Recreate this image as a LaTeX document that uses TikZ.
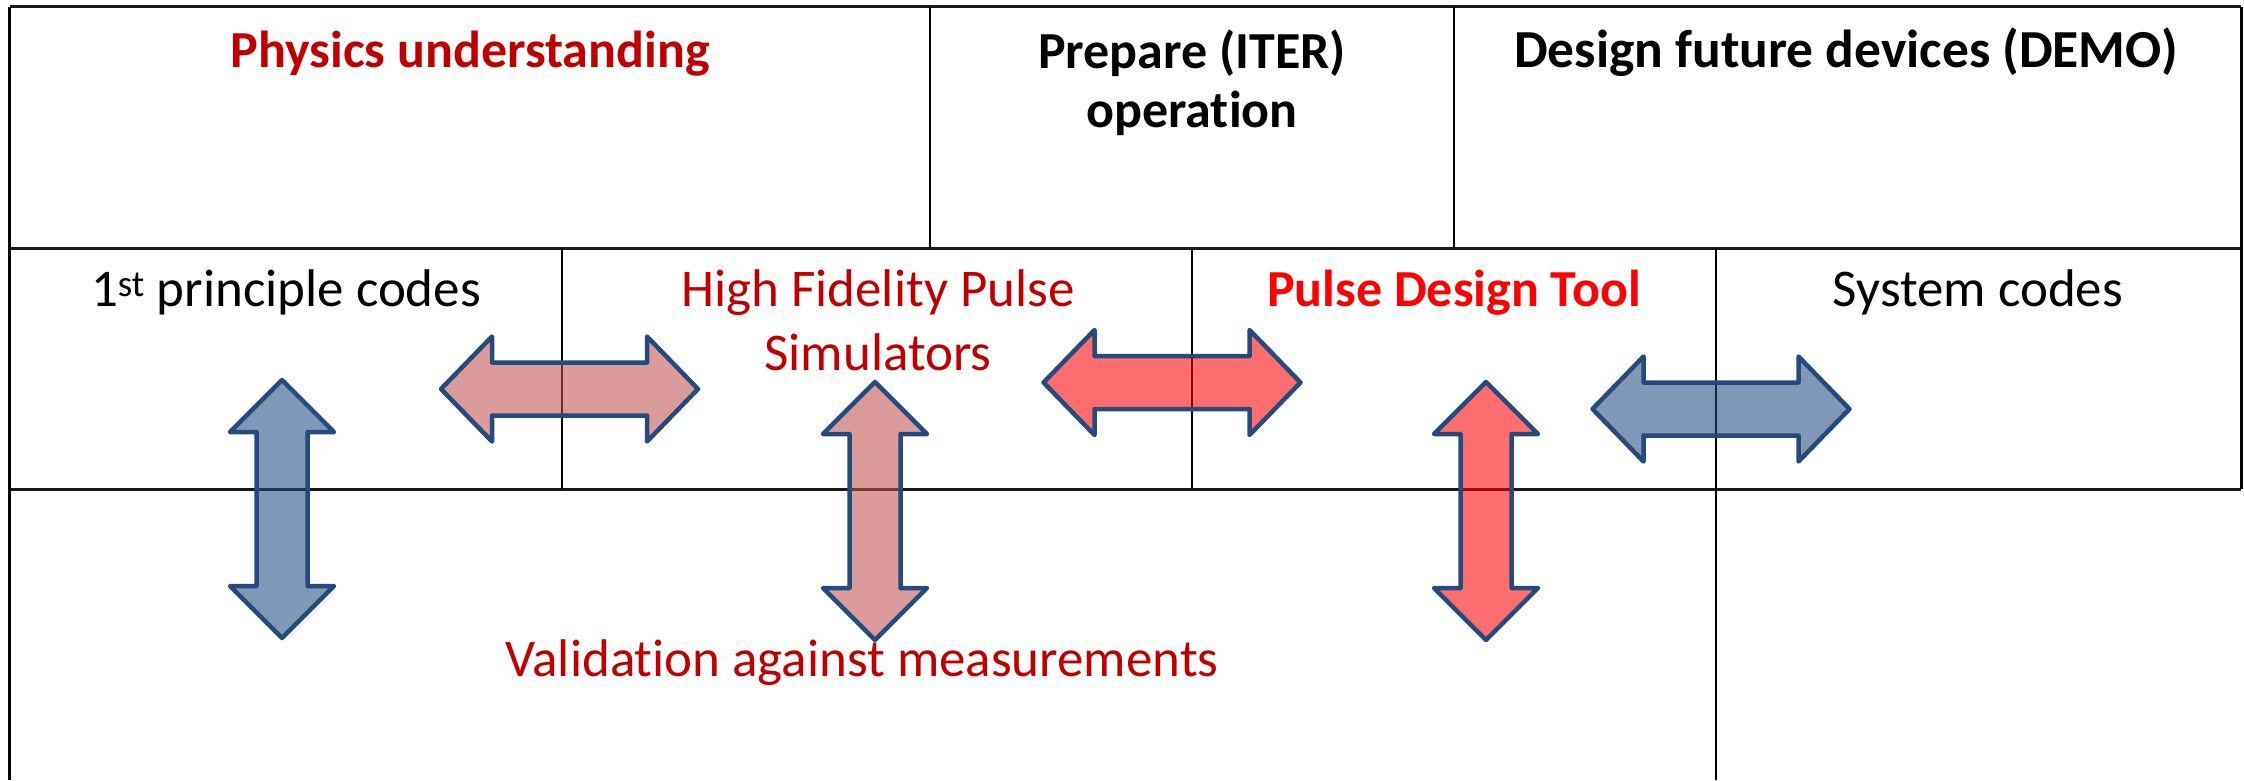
\documentclass[tikz,border=0pt]{standalone}
\usepackage{fontspec}
\setmainfont{Carlito}[Ligatures={NoCommon}]
\definecolor{dkred}{HTML}{C00000}
\definecolor{brred}{HTML}{FF0000}
\definecolor{arrline}{RGB}{37,74,126}
\definecolor{fblue}{HTML}{1F497D}
\definecolor{fpink}{HTML}{C0504D}
\definecolor{fred}{HTML}{FF0000}
\tikzset{
  rowline/.style={line width=3pt, black!90},
  colline/.style={line width=2pt, black},
  lbl/.style={inner sep=0pt, anchor=base, font=\fontsize{53}{64}\selectfont},
  blbl/.style={inner sep=0pt, anchor=base, font=\fontsize{52}{59}\selectfont\bfseries},
  arrbox/.style={draw=arrline, line width=4.5pt, line join=round, fill opacity=0.57},
  harrowpic/.pic={\path[pic actions] (-128.5,0) -- (-77.5,-52.5) -- (-77.5,-26.5) -- (77.5,-26.5) -- (77.5,-52.5) -- (128.5,0) -- (77.5,52.5) -- (77.5,26.5) -- (-77.5,26.5) -- (-77.5,52.5) -- cycle;},
  varrowpic/.pic={\path[pic actions] (0,-129) -- (-52,-77) -- (-25.5,-77) -- (-25.5,77) -- (-52,77) -- (0,129) -- (52,77) -- (25.5,77) -- (25.5,-77) -- (52,-77) -- cycle;},
}
\begin{document}
\begin{tikzpicture}[x=1pt,y=-1pt]
\useasboundingbox (0,0) rectangle (2244,780);
% grid lines
\draw[rowline] (9.5,6.5) -- (2241,6.5);
\draw[rowline] (9.5,248) -- (2241,248);
\draw[rowline] (9.5,489) -- (2241,489);
\draw[colline,line width=3pt] (9.5,6.5) -- (9.5,780);
\draw[colline,line width=3pt] (2241,6.5) -- (2241,489);
\draw[colline] (930,6.5) -- (930,248);
\draw[colline] (1454,6.5) -- (1454,248);
\draw[colline] (562,248) -- (562,489);
\draw[colline] (1192,248) -- (1192,489);
\draw[colline] (1716,248) -- (1716,780);
% texts
\node[blbl, text=dkred] (phys) at (470,67) {Physics understanding};
\node[blbl, align=center] (iter) at (1192,127) {Prepare (ITER)\\operation};
\node[blbl, font=\fontsize{53.5}{59}\selectfont\bfseries] (demo) at (1846,67) {Design future devices (DEMO)};
\node[lbl] (first) at (286,306) {1\textsuperscript{st} principle codes};
\node[lbl, text=dkred, align=center] (hifi) at (878,370) {High Fidelity Pulse\\Simulators};
\node[blbl, text=brred] (pdt) at (1454,306) {Pulse Design Tool};
\node[lbl] (sys) at (1978,306) {System codes};
\node[lbl, text=dkred] (valid) at (862,676) {Validation against measurements};
% arrows
\pic[arrbox, fill=fpink] (arrA) at (569.5,389) {harrowpic};
\pic[arrbox, fill=fred] (arrD) at (1172,382.5) {harrowpic};
\pic[arrbox, fill=fblue] (arrF) at (1721,409) {harrowpic};
\pic[arrbox, fill=fblue] (arrB) at (282,509) {varrowpic};
\pic[arrbox, fill=fpink] (arrC) at (875,511) {varrowpic};
\pic[arrbox, fill=fred] (arrE) at (1486,511) {varrowpic};
\end{tikzpicture}
\end{document}
